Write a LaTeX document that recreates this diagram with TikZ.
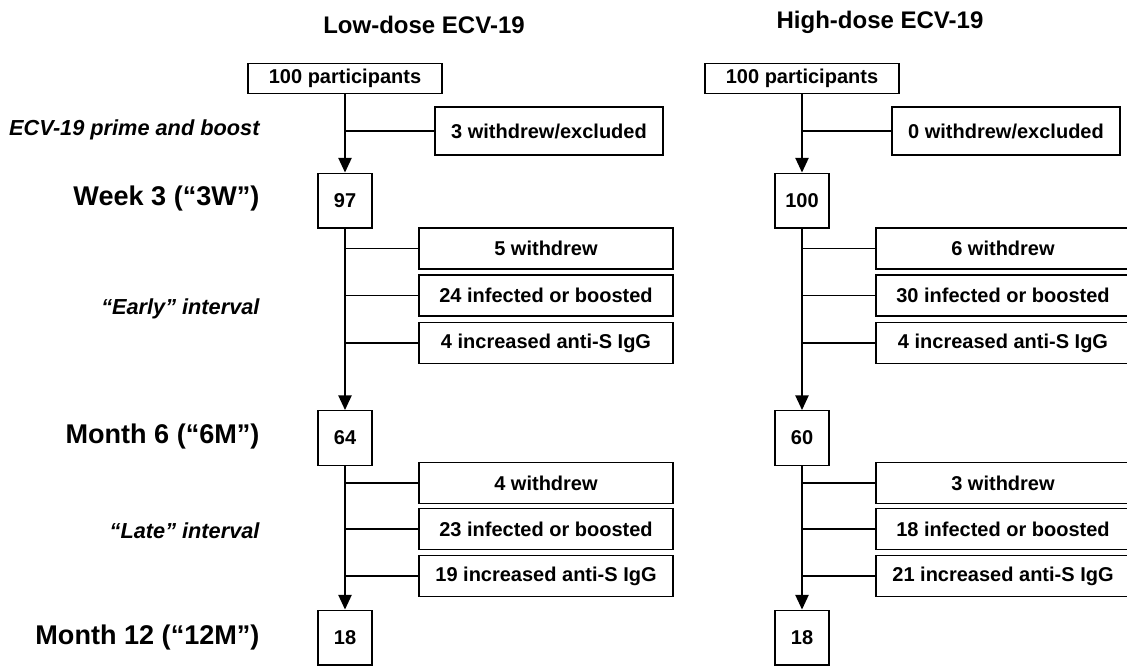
\documentclass[tikz,border=0pt]{standalone}
\usepackage{fontspec}
\setmainfont{Liberation Sans}
\usetikzlibrary{arrows.meta}

\tikzset{every picture/.style={line width=0.75pt}}
\tikzset{
  boxtxt/.style={font=\fontsize{15}{18}\selectfont\bfseries},
  flowbox/.style={draw, line width=1pt, inner sep=0pt, align=center, boxtxt},
  startbox/.style={flowbox, minimum width=145.5pt, minimum height=22.5pt},
  exclbox/.style={flowbox, minimum width=171pt, minimum height=36pt},
  countbox/.style={flowbox, minimum width=40.5pt, minimum height=41pt},
  lossbox/.style={flowbox, minimum width=190.5pt, minimum height=30.75pt},
  steplabel/.style={anchor=east, inner sep=0pt, font=\fontsize{20.3}{24}\selectfont\bfseries},
  phaselabel/.style={anchor=east, inner sep=0pt, font=\fontsize{16.3}{20}\selectfont\bfseries\itshape},
  armtitle/.style={inner sep=0pt, font=\fontsize{18}{22}\selectfont\bfseries},
  flowarrow/.style={line width=1pt, -{Triangle[length=11pt,width=10pt]}},
  branch/.style={line width=1pt}
}

\begin{document}
\begin{tikzpicture}[x=0.75pt,y=0.75pt,yscale=-1,xscale=1]
\useasboundingbox (0,0) rectangle (1127,667);

% Text Node
\node [armtitle] (lowtitle) at (424,25) {Low-dose ECV-19};
% Text Node
\node [armtitle] (hightitle) at (880,22) {High-dose ECV-19};

% Text Node
\node [phaselabel] (primelbl) at (260,130) {ECV-19 prime and boost};
% Text Node
\node [steplabel] (wklbl) at (260,199) {Week 3 (“3W”)};
% Text Node
\node [phaselabel] (earlylbl) at (260,309) {“Early” interval};
% Text Node
\node [steplabel] (m6lbl) at (260,436) {Month 6 (“6M”)};
% Text Node
\node [phaselabel] (latelbl) at (260,531) {“Late” interval};
% Text Node
\node [steplabel] (m12lbl) at (260,637) {Month 12 (“12M”)};

%% low dose arm
% Text Node
\node [startbox] (lstart) at (345,78.5) {100 participants};
\node [exclbox] (lexcl) at (549,131) {3 withdrew/excluded};
\node [countbox] (lwk) at (345,200.5) {97};
\node [lossbox] (lew) at (546,248.5) {5 withdrew};
\node [lossbox] (lei) at (546,295.5) {24 infected or boosted};
\node [lossbox] (lea) at (546,343) {4 increased anti-S IgG};
\node [countbox] (lm6) at (345,438) {64};
\node [lossbox] (llw) at (546,483) {4 withdrew};
\node [lossbox] (lli) at (546,529) {23 infected or boosted};
\node [lossbox] (lla) at (546,576) {19 increased anti-S IgG};
\node [countbox] (lm12) at (345,637.5) {18};

%% high dose arm
% Text Node
\node [startbox] (hstart) at (802,78.5) {100 participants};
\node [exclbox] (hexcl) at (1006,131) {0 withdrew/excluded};
\node [countbox] (hwk) at (802,200.5) {100};
\node [lossbox] (hew) at (1003,248.5) {6 withdrew};
\node [lossbox] (hei) at (1003,295.5) {30 infected or boosted};
\node [lossbox] (hea) at (1003,343) {4 increased anti-S IgG};
\node [countbox] (hm6) at (802,438) {60};
\node [lossbox] (hlw) at (1003,483) {3 withdrew};
\node [lossbox] (hli) at (1003,529) {18 infected or boosted};
\node [lossbox] (hla) at (1003,576) {21 increased anti-S IgG};
\node [countbox] (hm12) at (802,637.5) {18};

% Connection
\draw [flowarrow] (lstart) -- (lwk);
\draw [flowarrow] (lwk) -- (lm6);
\draw [flowarrow] (lm6) -- (lm12);
\draw [flowarrow] (hstart) -- (hwk);
\draw [flowarrow] (hwk) -- (hm6);
\draw [flowarrow] (hm6) -- (hm12);

% Connection
\draw [branch] (lexcl.west) -- (lexcl.west -| lstart.south);
\draw [branch] (lew.west) -- (lew.west -| lwk.south);
\draw [branch] (lei.west) -- (lei.west -| lwk.south);
\draw [branch] (lea.west) -- (lea.west -| lwk.south);
\draw [branch] (llw.west) -- (llw.west -| lm6.south);
\draw [branch] (lli.west) -- (lli.west -| lm6.south);
\draw [branch] (lla.west) -- (lla.west -| lm6.south);
\draw [branch] (hexcl.west) -- (hexcl.west -| hstart.south);
\draw [branch] (hew.west) -- (hew.west -| hwk.south);
\draw [branch] (hei.west) -- (hei.west -| hwk.south);
\draw [branch] (hea.west) -- (hea.west -| hwk.south);
\draw [branch] (hlw.west) -- (hlw.west -| hm6.south);
\draw [branch] (hli.west) -- (hli.west -| hm6.south);
\draw [branch] (hla.west) -- (hla.west -| hm6.south);

\end{tikzpicture}
\end{document}
